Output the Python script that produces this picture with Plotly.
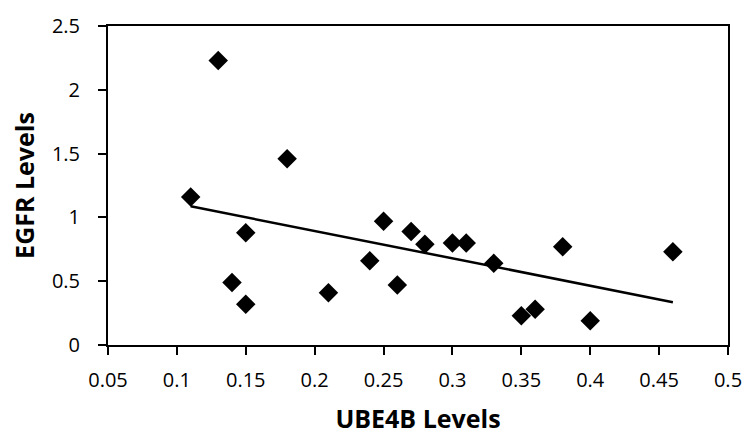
import numpy as np
import plotly.graph_objects as go

ube4b = [0.11, 0.13, 0.14, 0.15, 0.15, 0.18, 0.21, 0.24, 0.25, 0.26, 0.27, 0.28,
         0.30, 0.31, 0.33, 0.35, 0.36, 0.38, 0.40, 0.46]
egfr = [1.16, 2.23, 0.49, 0.88, 0.32, 1.46, 0.41, 0.66, 0.97, 0.47, 0.89, 0.79,
        0.80, 0.80, 0.64, 0.23, 0.28, 0.77, 0.19, 0.73]

x_ticks = [0.05, 0.1, 0.15, 0.2, 0.25, 0.3, 0.35, 0.4, 0.45, 0.5]
x_labels = ["0.05", "0.1", "0.15", "0.2", "0.25", "0.3", "0.35", "0.4", "0.45", "0.5"]
y_ticks = [0, 0.5, 1, 1.5, 2, 2.5]
y_labels = ["0", "0.5", "1", "1.5", "2", "2.5"]

slope, intercept = np.polyfit(ube4b, egfr, 1)
tx = [min(ube4b), max(ube4b)]
ty = [slope * v + intercept for v in tx]

font_family = "Open Sans, Liberation Sans, sans-serif"

fig = go.Figure()
fig.add_trace(go.Scatter(x=tx, y=ty, mode="lines",
                         line=dict(color="black", width=2.5), showlegend=False))
fig.add_trace(go.Scatter(x=ube4b, y=egfr, mode="markers",
                         marker=dict(symbol="diamond", size=15, color="black"),
                         showlegend=False))

fig.update_layout(
    width=754, height=441,
    margin=dict(l=108, r=20, t=17, b=94),
    paper_bgcolor="white", plot_bgcolor="white",
    font=dict(family=font_family, color="black", size=20),
    xaxis=dict(range=[0.05, 0.5], tickvals=x_ticks, ticktext=x_labels,
               showline=True, linecolor="black", linewidth=2, mirror=True,
               ticks="outside", ticklen=8, tickwidth=2, tickcolor="black",
               ticklabelstandoff=8, tickfont=dict(size=20),
               showgrid=False, zeroline=False,
               title=dict(text="<b>UBE4B Levels</b>", font=dict(size=25), standoff=18)),
    yaxis=dict(range=[0, 2.5], tickvals=y_ticks, ticktext=y_labels,
               showline=True, linecolor="black", linewidth=2, mirror=True,
               ticks="outside", ticklen=8, tickwidth=2, tickcolor="black",
               ticklabelstandoff=14, tickfont=dict(size=20),
               showgrid=False, zeroline=False,
               title=dict(text="<b>EGFR Levels</b>", font=dict(size=25), standoff=10)),
)

fig.write_html("out.html")
